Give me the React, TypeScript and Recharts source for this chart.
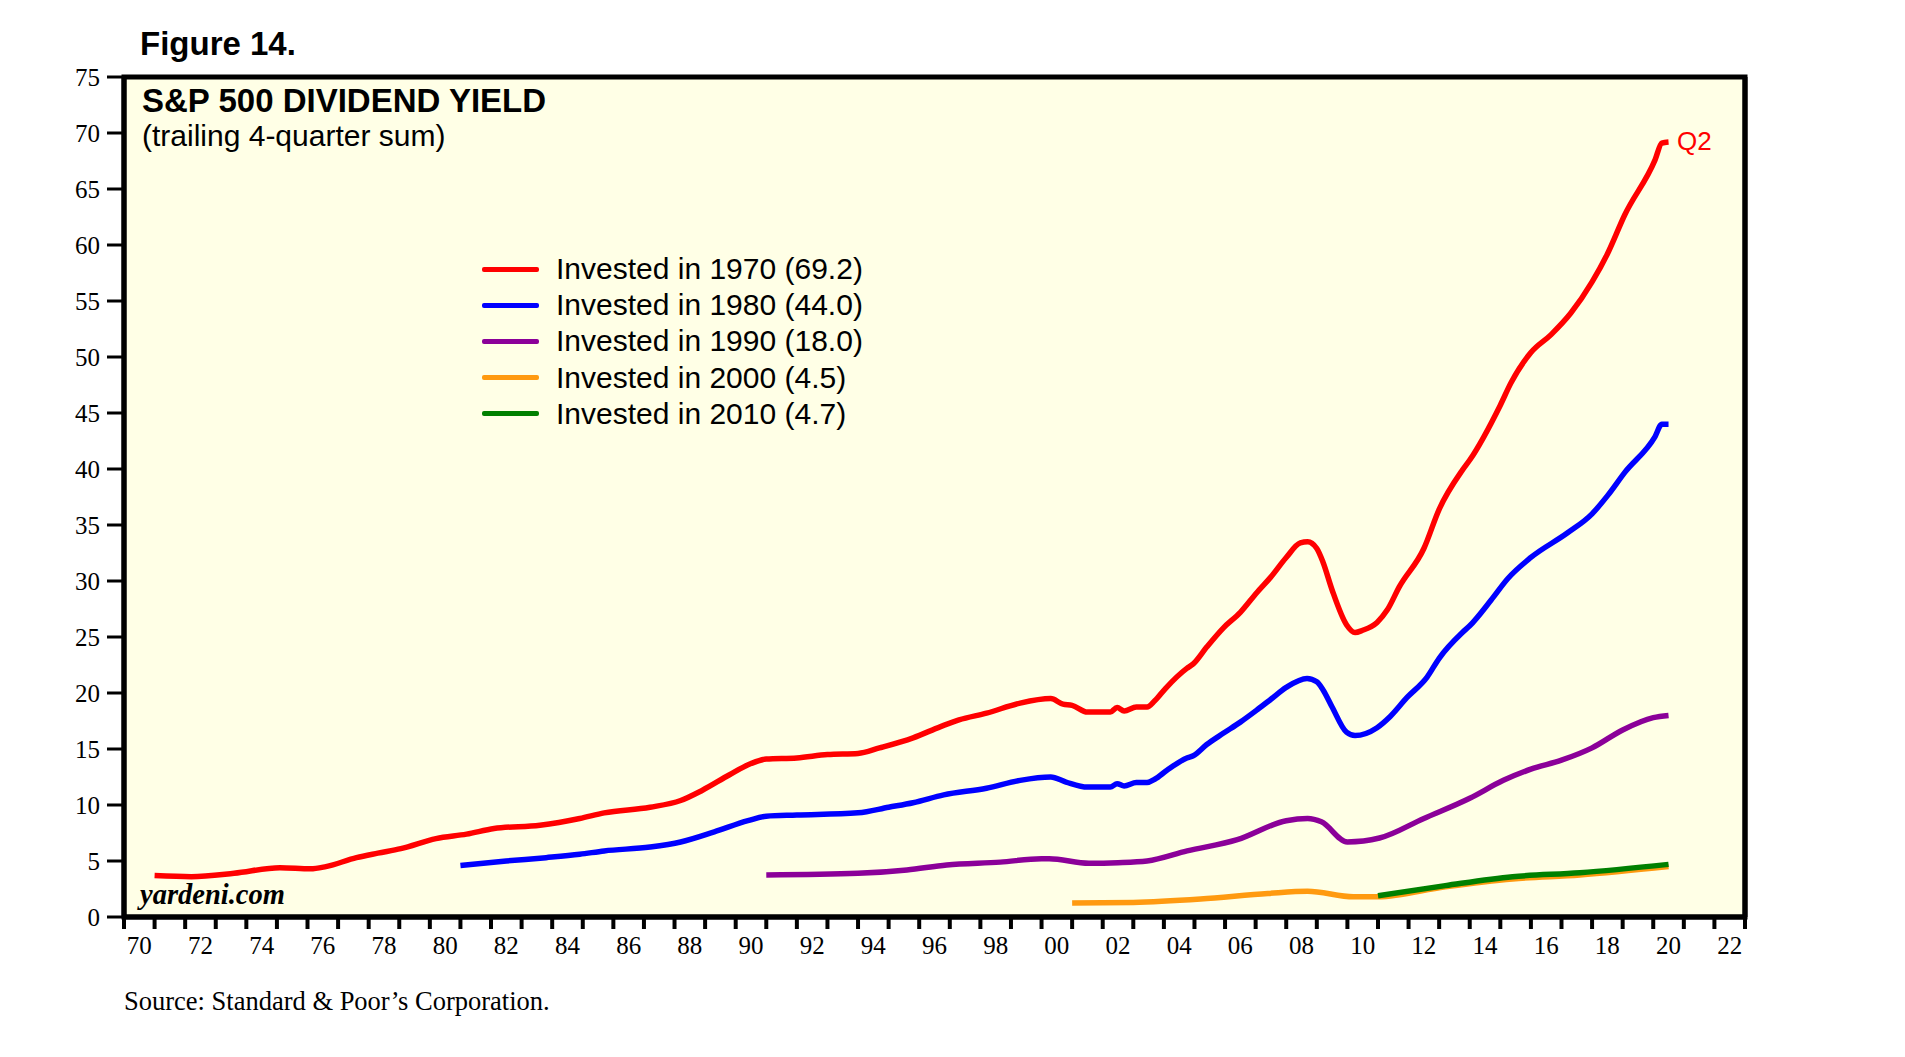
import React from "react";
import {
  LineChart,
  Line,
  XAxis,
  YAxis,
  CartesianGrid,
  ReferenceArea,
} from "recharts";

// values, [year, cumulative dividend yield %]
const invested1970 = [
  [1971.0, 3.7], [1972.2, 3.6], [1973.6, 3.9], [1975.1, 4.4], [1976.1, 4.3],
  [1976.6, 4.5], [1977.6, 5.3], [1978.3, 5.7], [1979.05, 6.1], [1980.2, 7.0],
  [1981.2, 7.4], [1982.1, 7.9], [1983.6, 8.2], [1984.9, 8.8], [1985.7, 9.3],
  [1987.2, 9.8], [1988.2, 10.4], [1988.9, 11.3], [1989.8, 12.7], [1990.5, 13.7],
  [1991.0, 14.1], [1992.0, 14.2], [1993.0, 14.5], [1994.0, 14.6], [1994.7, 15.1],
  [1995.8, 16.0], [1996.7, 17.0], [1997.3, 17.6], [1998.2, 18.2], [1999.3, 19.1],
  [2000.3, 19.5], [2000.7, 19.0], [2001.0, 18.9], [2001.5, 18.3], [2002.25, 18.3],
  [2002.47, 18.7], [2002.7, 18.4], [2003.1, 18.75], [2003.45, 18.75], [2003.7, 19.3],
  [2004.05, 20.4], [2004.75, 22.2], [2004.96, 22.6], [2005.4, 24.1], [2005.94, 25.8],
  [2006.5, 27.2], [2007.05, 29.0], [2007.48, 30.3], [2008.0, 32.1], [2008.46, 33.4],
  [2008.7, 33.5], [2009.0, 32.9], [2009.2, 31.7], [2009.5, 29.2], [2009.97, 26.1],
  [2010.25, 25.4], [2010.5, 25.6], [2010.97, 26.3], [2011.3, 27.4], [2011.7, 29.5],
  [2012.5, 32.9], [2013.0, 36.4], [2013.76, 39.9], [2014.0, 40.8], [2015.0, 45.7],
  [2015.35, 47.7], [2016.0, 50.4], [2016.66, 52.0], [2017.3, 53.9], [2018.0, 56.7],
  [2018.5, 59.2], [2019.07, 62.7], [2020.06, 67.6], [2020.28, 69.1], [2020.5, 69.2],
];

const invested1980 = [
  [1981.0, 4.6], [1982.5, 5.0], [1983.8, 5.3], [1984.9, 5.6], [1985.7, 5.9],
  [1987.2, 6.25], [1988.2, 6.7], [1989.3, 7.6], [1990.4, 8.6], [1991.0, 9.0],
  [1992.0, 9.1], [1994.0, 9.3], [1995.0, 9.8], [1995.8, 10.2], [1996.8, 10.9],
  [1998.2, 11.5], [1999.3, 12.2], [2000.3, 12.5], [2000.8, 12.05], [2001.5, 11.6],
  [2002.25, 11.6], [2002.47, 11.9], [2002.7, 11.7], [2003.1, 12.0], [2003.45, 12.0],
  [2003.7, 12.3], [2004.1, 13.1], [2004.75, 14.2], [2004.96, 14.4], [2005.4, 15.4],
  [2005.94, 16.4], [2006.5, 17.4], [2007.05, 18.5], [2007.48, 19.4], [2008.0, 20.5],
  [2008.68, 21.3], [2009.0, 21.0], [2009.2, 20.3], [2009.5, 18.75], [2009.97, 16.5],
  [2010.25, 16.2], [2010.97, 16.9], [2011.4, 17.9], [2011.95, 19.6], [2012.6, 21.4],
  [2013.0, 23.1], [2013.76, 25.4], [2014.0, 26.0], [2014.7, 28.3], [2015.24, 30.2],
  [2016.0, 32.1], [2017.2, 34.3], [2018.0, 36.0], [2018.5, 37.6], [2019.07, 39.7],
  [2020.06, 42.9], [2020.28, 44.0], [2020.5, 44.0],
];

const invested1990 = [
  [1991.0, 3.75], [1994.0, 3.9], [1995.6, 4.2], [1996.9, 4.65], [1998.65, 4.9],
  [2000.0, 5.2], [2000.25, 5.2], [2001.55, 4.8], [2002.5, 4.85], [2003.45, 5.0],
  [2004.76, 5.9], [2006.4, 6.9], [2008.0, 8.6], [2008.7, 8.8], [2009.15, 8.5],
  [2010.0, 6.7], [2011.05, 7.05], [2012.5, 8.8], [2014.0, 10.6], [2015.1, 12.2],
  [2016.0, 13.2], [2017.0, 14.0], [2018.0, 15.1], [2019.0, 16.7], [2020.0, 17.8],
  [2020.5, 18.0],
];

const invested2000 = [
  [2001.0, 1.25], [2003.0, 1.3], [2005.2, 1.6], [2007.4, 2.1], [2008.7, 2.3],
  [2010.2, 1.8], [2011.0, 1.8], [2013.2, 2.7], [2015.4, 3.4], [2017.6, 3.75],
  [2020.5, 4.5],
];

const invested2010 = [
  [2011.0, 1.9], [2013.2, 2.8], [2015.4, 3.6], [2017.6, 3.95], [2020.5, 4.7],
];

const seriesLabels = [
  "Invested in 1970 (69.2)",
  "Invested in 1980 (44.0)",
  "Invested in 1990 (18.0)",
  "Invested in 2000 (4.5)",
  "Invested in 2010 (4.7)",
];

const yTicks = [0, 5, 10, 15, 20, 25, 30, 35, 40, 45, 50, 55, 60, 65, 70, 75];
const xTicks = Array.from({ length: 54 }, (_, i) => 1970 + i);

const COLORS = ["#ff0000", "#0000ff", "#8b0099", "#ff9a10", "#008000"];

const toRows = (pairs: number[][]) => pairs.map(([x, v]) => ({ x, v }));
const series = [invested1970, invested1980, invested1990, invested2000, invested2010].map(toRows);

const W = 1905;
const H = 1057;
const LEFT = 124;
const RIGHT = 160;
const TOP = 77;
const BOTTOM = 140;
const PX_PER_YEAR = (W - LEFT - RIGHT) / 53;

const serif = "'Liberation Serif', 'Times New Roman', serif";
const sans = "'Liberation Sans', Arial, sans-serif";

const YearTick = (props: any) => {
  const { x, y, payload } = props;
  const yr = payload.value as number;
  if (yr % 2 !== 0 || yr > 2022) return <g />;
  return (
    <text
      x={x + PX_PER_YEAR / 2}
      y={y}
      dy="0.75em"
      textAnchor="middle"
      fontFamily={serif}
      fontSize={25}
      fill="#000"
    >
      {String(yr % 100).padStart(2, "0")}
    </text>
  );
};

export default function App() {
  return (
    <div style={{ position: "absolute", left: 0, top: 0, width: W, height: H, background: "#fff" }}>
      <LineChart width={W} height={H} margin={{ top: TOP, right: 0, bottom: 0, left: 0 }}>
        <CartesianGrid yAxisId="left" fill="#ffffe6" horizontal={false} vertical={false} />
        <XAxis
          dataKey="x"
          type="number"
          domain={[1970, 2023]}
          ticks={xTicks}
          interval={0}
          height={BOTTOM}
          tickSize={12}
          tickMargin={6}
          axisLine={{ stroke: "#000", strokeWidth: 5 }}
          tickLine={{ stroke: "#000", strokeWidth: 4 }}
          tick={<YearTick />}
          allowDataOverflow
        />
        <YAxis
          yAxisId="left"
          domain={[0, 75]}
          ticks={yTicks}
          interval={0}
          width={LEFT}
          tickSize={17}
          tickMargin={7}
          axisLine={{ stroke: "#000", strokeWidth: 5 }}
          tickLine={{ stroke: "#000", strokeWidth: 3 }}
          tick={{ fontFamily: serif, fontSize: 25, fill: "#000" }}
        />
        <YAxis
          yAxisId="right"
          orientation="right"
          domain={[0, 75]}
          ticks={yTicks}
          interval={0}
          width={RIGHT}
          tickSize={17}
          tickMargin={6}
          axisLine={{ stroke: "#000", strokeWidth: 5 }}
          tickLine={{ stroke: "#000", strokeWidth: 3 }}
          tick={{ fontFamily: serif, fontSize: 25, fill: "#000", textAnchor: "start" }}
        />
        <ReferenceArea
          yAxisId="left"
          x1={1970}
          x2={2023}
          y1={0}
          y2={75}
          fill="none"
          stroke="#000"
          strokeWidth={5}
          ifOverflow="visible"
        />
        {series.map((rows, i) => (
          <Line
            key={seriesLabels[i]}
            yAxisId="left"
            data={rows}
            dataKey="v"
            type="monotone"
            stroke={COLORS[i]}
            strokeWidth={5.5}
            dot={false}
            isAnimationActive={false}
          />
        ))}
      </LineChart>

      <div style={{ position: "absolute", left: 140, top: 25, fontFamily: sans, fontWeight: "bold", fontSize: 33 }}>
        Figure 14.
      </div>
      <div style={{ position: "absolute", left: 142, top: 82, fontFamily: sans, fontWeight: "bold", fontSize: 33 }}>
        S&amp;P 500 DIVIDEND YIELD
      </div>
      <div style={{ position: "absolute", left: 142, top: 119, fontFamily: sans, fontSize: 30 }}>
        (trailing 4-quarter sum)
      </div>
      <div style={{ position: "absolute", left: 482, top: 251 }}>
        {seriesLabels.map((label, i) => (
          <div key={label} style={{ display: "flex", alignItems: "center", height: 36.2 }}>
            <div style={{ width: 57, height: 5, background: COLORS[i], borderRadius: 2 }} />
            <span style={{ marginLeft: 17, fontFamily: sans, fontSize: 30, color: "#000" }}>{label}</span>
          </div>
        ))}
      </div>
      <div style={{ position: "absolute", left: 1677, top: 126, fontFamily: sans, fontSize: 26, color: "#ff0000" }}>
        Q2
      </div>
      <div
        style={{
          position: "absolute",
          left: 140,
          top: 879,
          fontFamily: serif,
          fontStyle: "italic",
          fontWeight: "bold",
          fontSize: 28.5,
        }}
      >
        yardeni.com
      </div>
      <div style={{ position: "absolute", left: 124, top: 986, fontFamily: serif, fontSize: 26.5 }}>
        Source: Standard &amp; Poor’s Corporation.
      </div>
    </div>
  );
}
